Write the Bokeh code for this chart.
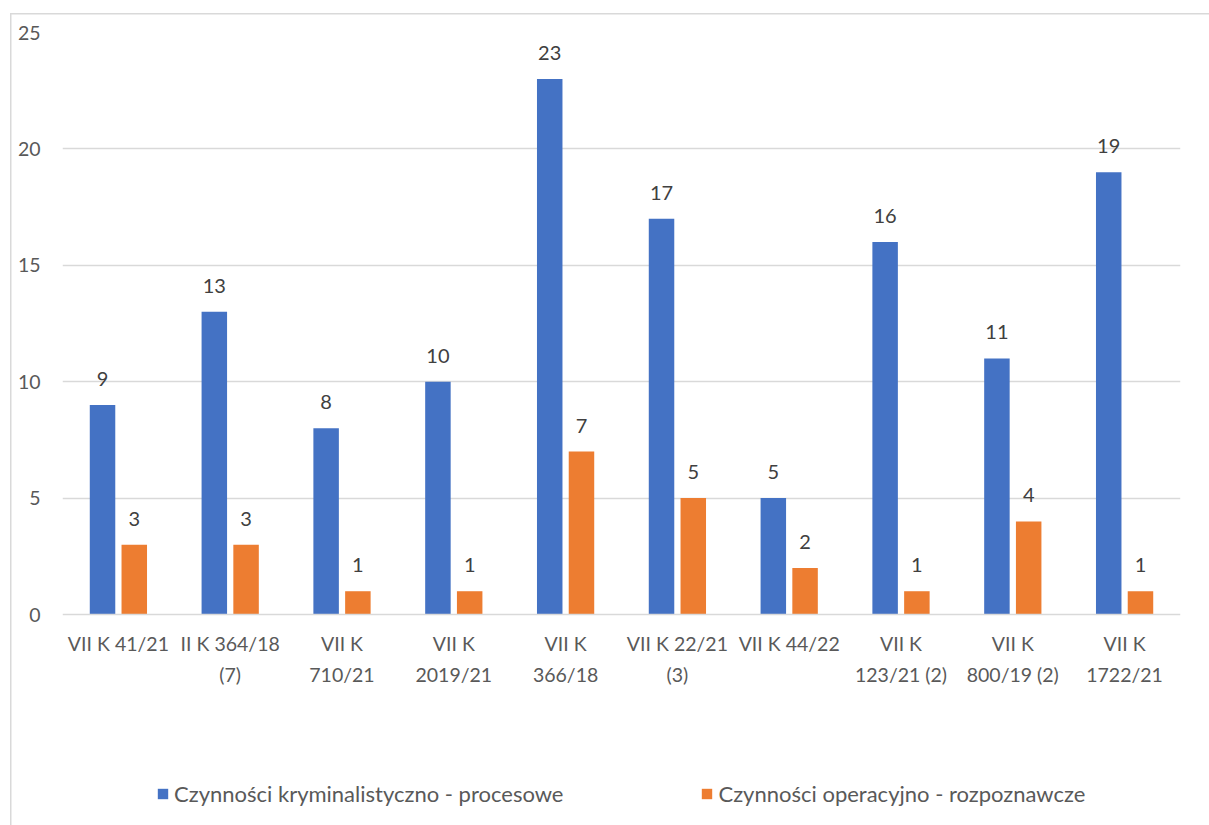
from bokeh.plotting import figure
from bokeh.models import (ColumnDataSource, FactorRange, Range1d, FixedTicker,
                          Legend, LegendItem)
from bokeh.transform import dodge
from bokeh.core.properties import value
from bokeh.embed import file_html
from bokeh.resources import INLINE

categories = ["VII K 41/21", "II K 364/18\n(7)", "VII K\n710/21", "VII K\n2019/21",
              "VII K\n366/18", "VII K 22/21\n(3)", "VII K 44/22", "VII K\n123/21 (2)",
              "VII K\n800/19 (2)", "VII K\n1722/21"]
procesowe = [9, 13, 8, 10, 23, 17, 5, 16, 11, 19]
operacyjne = [3, 3, 1, 1, 7, 5, 2, 1, 4, 1]
series_names = ["Czynności kryminalistyczno - procesowe", "Czynności operacyjno - rozpoznawcze"]
y_ticks = [0, 5, 10, 15, 20, 25]

BLUE = "#4472C4"
ORANGE = "#ED7D31"
FONT = "Lato"

# frame spans 32..817 px; value 0 sits at 614 px, 25 at 32 px
Y_MIN = 25 - (817 - 32) * 25 / (614 - 32)

src = ColumnDataSource(dict(cat=categories, a=procesowe, b=operacyjne,
                            a_lab=[str(v) for v in procesowe],
                            b_lab=[str(v) for v in operacyjne]))

p = figure(width=1209, height=825, x_range=FactorRange(*categories, range_padding=0),
           y_range=Range1d(Y_MIN, 25), output_backend="svg", toolbar_location=None,
           min_border_left=62, min_border_right=29, min_border_top=32, min_border_bottom=8)
p.outline_line_color = None
p.background_fill_alpha = 0
p.border_fill_alpha = 0
p.styles = {
    "background-color": "white",
    "background-image": "linear-gradient(#d9d9d9,#d9d9d9), linear-gradient(#d9d9d9,#d9d9d9)",
    "background-size": "1.5px 100%, 100% 1.5px",
    "background-position": "10px 13px, 10px 13px",
    "background-repeat": "no-repeat",
}

ra = p.vbar(x=dodge("cat", -0.142, range=p.x_range), top="a", width=0.228, source=src,
            fill_color=BLUE, line_color=None)
rb = p.vbar(x=dodge("cat", 0.142, range=p.x_range), top="b", width=0.228, source=src,
            fill_color=ORANGE, line_color=None)

for col, lab, off in (("a", "a_lab", -0.142), ("b", "b_lab", 0.142)):
    p.text(x=dodge("cat", off, range=p.x_range), y=col, text=lab, source=src,
           text_align="center", text_baseline="alphabetic", y_offset=-26,
           text_font=value(FONT), text_font_size="20px", text_color="#404040")

# axes
p.xgrid.grid_line_color = None
p.ygrid.grid_line_color = "#d9d9d9"
p.ygrid.grid_line_width = 1.5
p.yaxis.ticker = FixedTicker(ticks=y_ticks)
p.ygrid.ticker = FixedTicker(ticks=y_ticks[1:])
p.yaxis.axis_line_color = None
p.yaxis.major_tick_line_color = None
p.yaxis.minor_tick_line_color = None
p.yaxis.major_tick_out = 0
p.yaxis.major_label_standoff = 22
p.yaxis.major_label_text_font = FONT
p.yaxis.major_label_text_font_size = "19.5px"
p.yaxis.major_label_text_color = "#595959"

p.xaxis.fixed_location = 0
p.xaxis.axis_line_color = "#d9d9d9"
p.xaxis.axis_line_width = 1.5
p.xaxis.major_tick_line_color = None
p.xaxis.minor_tick_line_color = None
p.xaxis.major_tick_out = 0
p.xaxis.major_label_standoff = 17
p.xaxis.major_label_text_font = FONT
p.xaxis.major_label_text_font_size = "19.5px"
p.xaxis.major_label_text_color = "#595959"
p.xaxis.major_label_text_line_height = 1.35

legend = Legend(items=[LegendItem(label=series_names[0], renderers=[ra]),
                       LegendItem(label=series_names[1], renderers=[rb])],
                location=(94, 10), orientation="horizontal")
legend.glyph_width = 13
legend.glyph_height = 13
legend.label_height = 20
legend.label_standoff = 5
legend.spacing = 137
legend.padding = 0
legend.margin = 0
legend.border_line_color = None
legend.background_fill_alpha = 0
legend.label_text_font = FONT
legend.label_text_font_size = "22px"
legend.label_text_color = "#595959"
p.add_layout(legend, "center")

open("out.html", "w").write(file_html(p, INLINE))
